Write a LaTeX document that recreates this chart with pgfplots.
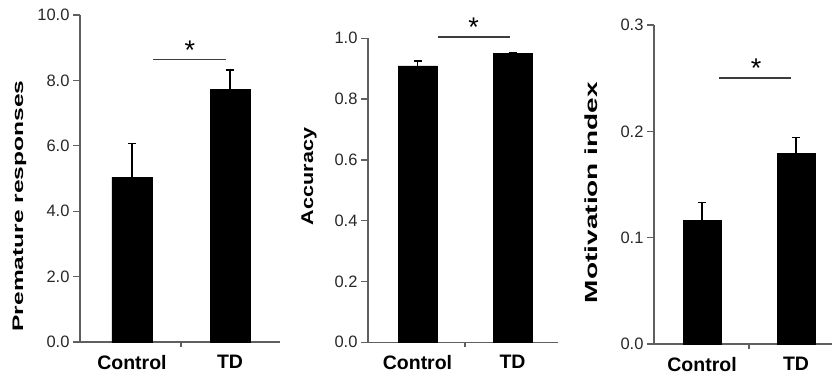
\documentclass[border=0pt]{standalone}
\usepackage{fontspec}
\setmainfont{Liberation Sans}
\usepackage{pgfplots}
\pgfplotsset{compat=1.18}
\definecolor{axgray}{RGB}{95,95,95}
\definecolor{txtgray}{RGB}{40,40,40}
\definecolor{siggray}{RGB}{60,60,60}
\pgfplotsset{
 mystyle/.style={
  scale only axis, anchor=south west,
  axis x line*=bottom, axis y line*=left,
  axis line style={axgray, line width=1.3pt, -},
  tick align=outside, tick pos=left,
  every tick/.style={axgray, line width=1.3pt},
  major tick length=7pt, minor tick length=5pt,
  xtick={0,1}, xticklabels={Control,TD}, minor xtick={0.5},
  every major x tick/.style={draw=none},
  x tick label style={font=\fontsize{19.5}{20}\selectfont\bfseries, text=black, yshift=-2.5pt},
  y tick label style={font=\fontsize{16.5}{18}\selectfont, text=txtgray},
  /pgf/number format/assume math mode=true,
  yticklabel style={/pgf/number format/.cd, fixed, fixed zerofill, precision=1},
  clip=false,
  ymin=0,
 },
 barstyle/.style={ybar, bar width=#1, fill=black, draw=black,
  error bars/.cd, y dir=plus, y explicit,
  error bar style={line width=1.4pt, black},
  error mark options={rotate=90, mark size=4pt, line width=1.4pt, black}},
 sigstyle/.style={siggray, line width=1.8pt, mark=none, forget plot},
}
\begin{document}
\begin{tikzpicture}
\useasboundingbox (0pt,0pt) rectangle (832pt,378pt);
% Panel 1
\begin{axis}[mystyle, at={(80pt,36pt)}, width=200pt, height=327pt,
  xmin=-0.53, xmax=1.51, ymax=10, ytick={0,2,4,6,8,10}]
\addplot[barstyle=40pt] coordinates {(0,5.04) +- (0,1.03) (1,7.73) +- (0,0.59)};
\addplot[sigstyle] coordinates {(0.2146,8.64) (0.959,8.64)};
\node[anchor=base, font=\fontsize{27}{27}\selectfont] at (axis cs:0.59,8.64) {*};
\end{axis}
% Panel 2
\begin{axis}[mystyle, at={(368pt,35.7pt)}, width=190pt, height=304pt,
  xmin=-0.521, xmax=1.479, ymax=1, ytick={0,0.2,0.4,0.6,0.8,1.0}]
\addplot[barstyle=39pt] coordinates {(0,0.909) +- (0,0.016) (1,0.950) +- (0,0.004)};
\addplot[sigstyle] coordinates {(0.216,1.005) (0.974,1.005)};
\node[anchor=base, font=\fontsize{27}{27}\selectfont] at (axis cs:0.59,1.005) {*};
\end{axis}
% Panel 3
\begin{axis}[mystyle, at={(654pt,34pt)}, width=178pt, height=319pt,
  xmin=-0.511, xmax=1.383, ymax=0.3, ytick={0,0.1,0.2,0.3}]
\addplot[barstyle=38pt] coordinates {(0,0.116) +- (0,0.017) (1,0.179) +- (0,0.015)};
\addplot[sigstyle] coordinates {(0.181,0.2505) (0.947,0.2505)};
\node[anchor=base, font=\fontsize{27}{27}\selectfont] at (axis cs:0.575,0.2505) {*};
\end{axis}
% y labels
\node[rotate=90, anchor=base, inner sep=0pt] at (23pt,172pt) {\resizebox{251pt}{10.5pt}{\bfseries Premature responses}};
\node[rotate=90, anchor=base, inner sep=0pt] at (313pt,201.5pt) {\resizebox{97pt}{11.7pt}{\bfseries Accuracy}};
\node[rotate=90, anchor=base, inner sep=0pt] at (597.7pt,185.5pt) {\resizebox{221pt}{12.7pt}{\bfseries Motivation index}};
\end{tikzpicture}
\end{document}
